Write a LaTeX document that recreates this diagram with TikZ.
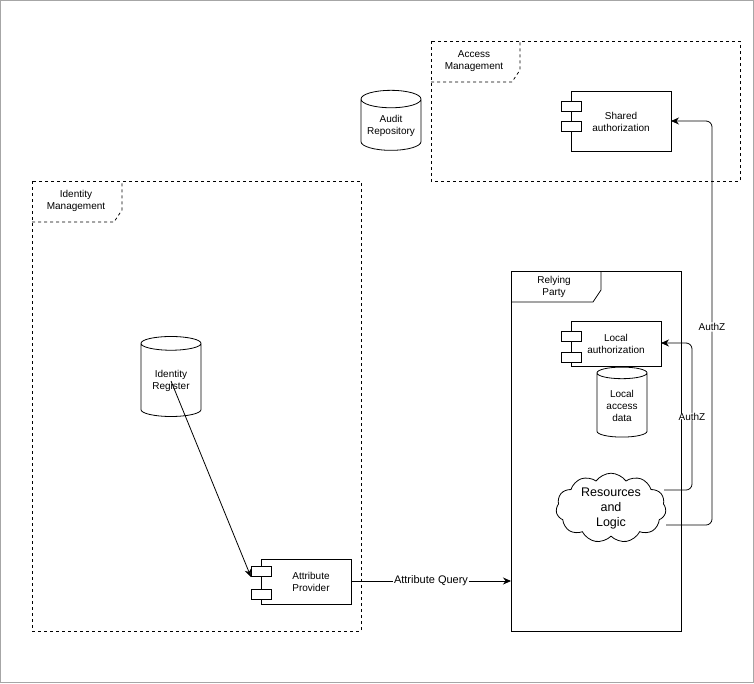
\documentclass[tikz,border=0pt]{standalone}
\usepackage{fontspec}
\setmainfont{Liberation Sans}
\usetikzlibrary{shapes.geometric,shapes.symbols,arrows.meta}
\begin{document}
\begin{tikzpicture}[x=1pt,y=-1pt,
  lbl/.style={font=\fontsize{10}{12}\selectfont,align=center},
  comp/.style={draw,thick,fill=white},
  cyl/.style={draw,thick,cylinder,shape border rotate=90,aspect=0.35,minimum width=#1,align=center,font=\fontsize{10}{12}\selectfont},
  frame/.style={draw,thick,dashed},
  arr/.style={thick,-{Stealth[length=8pt,width=7pt]},rounded corners=6pt},
  every node/.style={inner sep=1pt}]
\useasboundingbox (0,0) rectangle (754,683);
\draw[gray!70] (0.5,0.5) rectangle (753.5,682.5);
% Access Management
\draw[frame] (431,41) rectangle (740,181);
\draw[frame] (431,82) -- (512,82) -- (520,70) -- (520,41);
\node[lbl] (amt) at (474,61) {Access\\Management};
\draw[comp] (571,91) rectangle (671,151);
\draw[comp] (561,101) rectangle (581,111);
\draw[comp] (561,121) rectangle (581,131);
\node[lbl] (sa) at (621,122) {Shared\\authorization};
\coordinate (saR) at (671,121);
% Audit
\node[cyl=60pt,minimum height=60pt] (audit) at (391,126) {Audit\\Repository};
% Identity Management
\draw[frame] (32,181) rectangle (361,631);
\draw[frame] (32,222) -- (114,222) -- (122,210) -- (122,181);
\node[lbl] (imt) at (76,201) {Identity\\Management};
\node[cyl=60pt,minimum height=80pt] (ir) at (171,381) {Identity\\Register};
\draw[comp] (261,559) rectangle (351,604);
\draw[comp] (251,566) rectangle (271,576);
\draw[comp] (251,589) rectangle (271,599);
\node[lbl] (ap) at (311,582) {Attribute\\Provider};
\coordinate (apL) at (251,577);
\coordinate (apR) at (351,581);
% Relying Party
\draw[thick] (511,271) rectangle (681,631);
\draw[thick] (511,302) -- (593,302) -- (601,290) -- (601,271);
\node[lbl] (rpt) at (554,287) {Relying\\Party};
\coordinate (rpL) at (511,581);
\draw[comp] (571,321) rectangle (661,366);
\draw[comp] (561,331) rectangle (581,341);
\draw[comp] (561,352) rectangle (581,362);
\node[lbl] (la) at (616,344) {Local\\authorization};
\coordinate (laR) at (661,343);
\node[cyl=50pt,minimum height=70pt] (lad) at (622,406) {Local\\access\\data};
\node[draw,thick,cloud,cloud puffs=11,cloud puff arc=110,aspect=1.6,minimum width=110pt,minimum height=68pt,inner sep=0pt,align=center,font=\fontsize{12.5}{15}\selectfont] (cl) at (611,508) {Resources\\and\\Logic};
\coordinate (c1) at (664,490);
\coordinate (c2) at (666,525);
% connectors
\draw[arr] (ir.center) -- (apL);
\draw[arr] (apR) -- node[fill=white,lbl,font=\fontsize{11}{13}\selectfont]{Attribute Query} (rpL);
\draw[arr] (c1) -- (692,490) -- node[pos=0.5,lbl,fill=white,inner sep=0pt]{AuthZ} (692,343) -- (laR);
\draw[arr] (c2) -- (712,525) -- node[pos=0.49,lbl,fill=white]{AuthZ} (712,121) -- (saR);
\end{tikzpicture}
\end{document}
